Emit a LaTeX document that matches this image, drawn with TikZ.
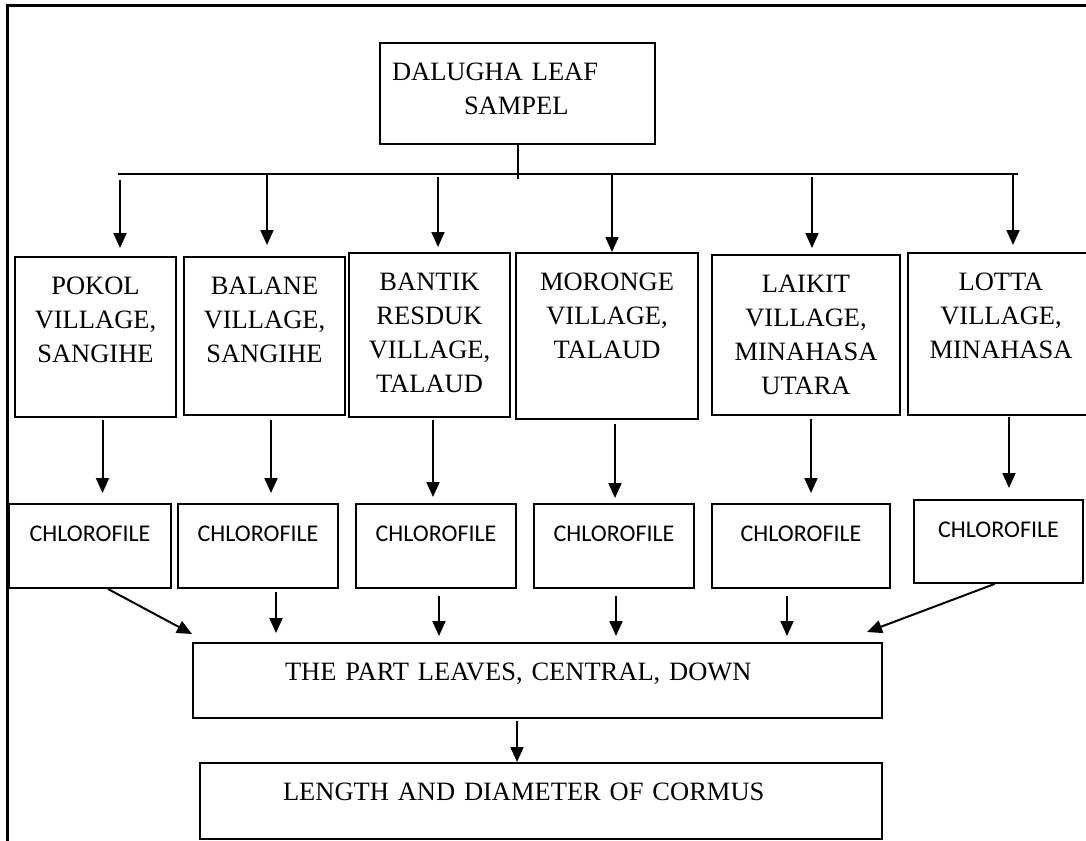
\documentclass[tikz,border=0pt]{standalone}
\usepackage{fontspec}
\setmainfont{Liberation Serif}
\newfontfamily\chlfont{Carlito}
\usetikzlibrary{arrows.meta}

\begin{document}
\begin{tikzpicture}[x=1pt,y=-1pt,
box/.style={draw,line width=2pt,anchor=north west,inner xsep=0pt,inner ysep=19.2pt,
    text height=18pt,font=\fontsize{26.5}{34}\selectfont},
village/.style={box,align=center},
chl/.style={draw,line width=2pt,anchor=north west,inner xsep=0pt,inner ysep=21.5pt,
    text height=16pt,align=center,font=\chlfont\fontsize{24}{29}\selectfont},
arr/.style={line width=2pt,-{Triangle[width=13pt,length=15pt]}}]
\useasboundingbox (0,0) rectangle (1086,840);
% page frame
\draw[line width=3pt] (7,6) rectangle (1120,880);

\node (sample) [box,align=left,text width=275pt,text depth=44.6pt] at (379,42)
    {\hspace*{12pt}DALUGHA LEAF\\\hspace*{84pt}SAMPEL};

\node (pokol) [village,text width=161pt,text depth=103.6pt] at (14,256)
    {POKOL\\VILLAGE,\\SANGIHE};
\node (balane) [village,text width=161pt,text depth=101.6pt] at (183,256)
    {BALANE\\VILLAGE,\\SANGIHE};
\node (bantik) [village,text width=161pt,text depth=107.6pt] at (348,252)
    {BANTIK\\RESDUK\\VILLAGE,\\TALAUD};
\node (moronge) [village,text width=182pt,text depth=109.6pt] at (515,252)
    {MORONGE\\VILLAGE,\\TALAUD};
\node (laikit) [village,text width=188pt,text depth=103.6pt] at (711,254)
    {LAIKIT\\VILLAGE,\\MINAHASA\\UTARA};
\node (lotta) [village,text width=186pt,text depth=105.6pt] at (907,252)
    {LOTTA\\VILLAGE,\\MINAHASA};

\foreach \n/\x/\y/\w/\d in {chl1/8/503/162/25, chl2/177/503/160/25, chl3/355/503/160/25,
    chl4/533/503/160/25, chl5/711/503/178/25, chl6/913/499/169/24}
  \node (\n) [chl,text width=\w pt,text depth=\d pt] at (\x,\y) {CHLOROFILE};

\node (part) [box,align=left,text width=689pt,text depth=18.6pt] at (192,642)
    {\hspace*{92pt}THE PART LEAVES, CENTRAL, DOWN};
\node (cormus) [box,align=left,text width=682pt,text depth=19.6pt] at (199,762)
    {\hspace*{83pt}LENGTH AND DIAMETER OF CORMUS};

% branching line
\coordinate (busl) at (118,173.5);
\coordinate (busr) at (1018,173.5);
\draw[line width=2pt] (sample.south) -- ++(0,34);
\draw[line width=2pt] (busl) -- (busr);
\foreach \v/\x/\ys/\g in {pokol/120/180/8, balane/267/175/11, bantik/438/177/5,
    moronge/612/173.5/0, laikit/812/177/6, lotta/1013/175/7}
{
  \coordinate (ax) at (\x,\ys);
  \draw[arr,shorten >=\g pt] (ax) -- (ax |- \v.north);
}

% villages to chlorofile
\foreach \v/\c/\x/\gs/\ge in {pokol/chl1/102.5/2/10, balane/chl2/271/4/10, bantik/chl3/433/2/6,
    moronge/chl4/615/4/5, laikit/chl5/811/3/10, lotta/chl6/1009/1/11}
{
  \coordinate (ax) at (\x,0);
  \draw[arr,shorten <=\gs pt,shorten >=\ge pt] (\v.south -| ax) -- (\c.north -| ax);
}

% chlorofile to part
\draw[arr] ([xshift=18pt]chl1.south) -- ([yshift=8pt]part.north west);
\draw[arr] ([xshift=-4pt]chl6.south) -- ([shift={(-16pt,10pt)}]part.north east);
\foreach \c/\x/\gs/\ge in {chl2/276/3/9, chl3/439/7/6, chl4/616/7/6, chl5/787/7/6}
{
  \coordinate (ax) at (\x,0);
  \draw[arr,shorten <=\gs pt,shorten >=\ge pt] (\c.south -| ax) -- (part.north -| ax);
}

\coordinate (ax) at (517,0);
\draw[arr,shorten <=2pt] (part.south -| ax) -- (cormus.north -| ax);
\end{tikzpicture}
\end{document}
